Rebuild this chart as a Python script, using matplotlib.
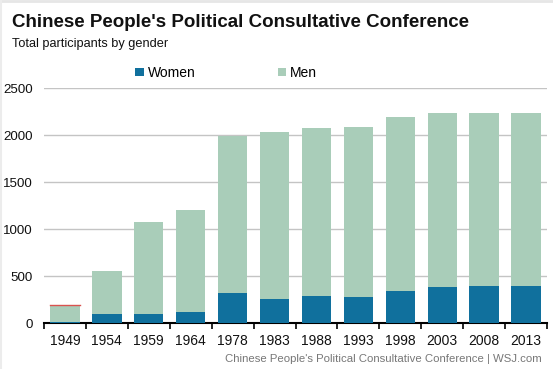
import numpy as np
import matplotlib.pyplot as plt

# Data
years = ['1949', '1954', '1959', '1964', '1978', '1983', '1988',
         '1993', '1998', '2003', '2008', '2013']
women = [14, 96, 100, 117, 319, 262, 290, 280, 340, 390, 401, 399]
total = [198, 559, 1074, 1205, 1996, 2035, 2081, 2091, 2195, 2240, 2240, 2240]
men = [t - w for t, w in zip(total, women)]

plt.rcParams['font.family'] = ['Liberation Sans', 'DejaVu Sans']

women_color = '#10709d'
men_color = '#a9cdb9'

fig = plt.figure(figsize=(5.53, 3.69), dpi=100)
ax = fig.add_axes([44 / 553, 1 - 323.3 / 369, 503 / 553, 235 / 369])

# faint frame along the top and left edge of the image
fig.add_artist(plt.Line2D([0, 1], [0.997, 0.997], transform=fig.transFigure, color='#e6e6e6', lw=2))
fig.add_artist(plt.Line2D([0.001, 0.001], [0, 1], transform=fig.transFigure, color='#ececec', lw=1.5))

x = np.arange(len(years))
ax.bar(x, women, width=0.7, color=women_color, label='Women', zorder=3)
ax.bar(x, men, width=0.7, bottom=women, color=men_color, label='Men', zorder=3)
# thin red cap on the first bar, as in the original
ax.plot([x[0] - 0.35, x[0] + 0.35], [total[0], total[0]], color='#d9534f', lw=1, zorder=4)

ax.set_xlim(-0.5, len(years) - 0.5)
ax.set_ylim(0, 2500)
ax.set_yticks([0, 500, 1000, 1500, 2000, 2500])
ax.yaxis.grid(True, color='#c4c4c4', lw=1)
ax.set_axisbelow(True)

ax.set_xticks(x)
ax.set_xticklabels(years)
ax.set_xticks(np.arange(-0.5, len(years)), minor=True)
ax.tick_params(axis='x', which='major', length=0, labelsize=10, pad=8, colors='#111111')
ax.tick_params(axis='x', which='minor', length=4, width=1.2, direction='out', color='black')
ax.tick_params(axis='y', length=0, labelsize=9.6, pad=8, colors='#111111')

for side in ['top', 'right', 'left']:
    ax.spines[side].set_visible(False)
ax.spines['bottom'].set_linewidth(1.5)
ax.spines['bottom'].set_color('black')

leg = ax.legend(loc='lower left', bbox_to_anchor=(0.165, 1.0), ncol=2, frameon=False,
                fontsize=10, handlelength=0.6, handleheight=0.6, handletextpad=0.3,
                columnspacing=5.9, borderaxespad=0.2)

fig.text(12 / 553, 1 - 27 / 369, "Chinese People's Political Consultative Conference",
         fontsize=13.5, fontweight='bold', va='baseline', ha='left', color='#111111')
fig.text(12 / 553, 1 - 47 / 369, 'Total participants by gender',
         fontsize=9.2, va='baseline', ha='left', color='#111111')
fig.text(542 / 553, 1 - 362 / 369,
         "Chinese People's Political Consultative Conference | WSJ.com",
         fontsize=8.2, va='baseline', ha='right', color='#777777')

fig.savefig('out.png', dpi=100)
